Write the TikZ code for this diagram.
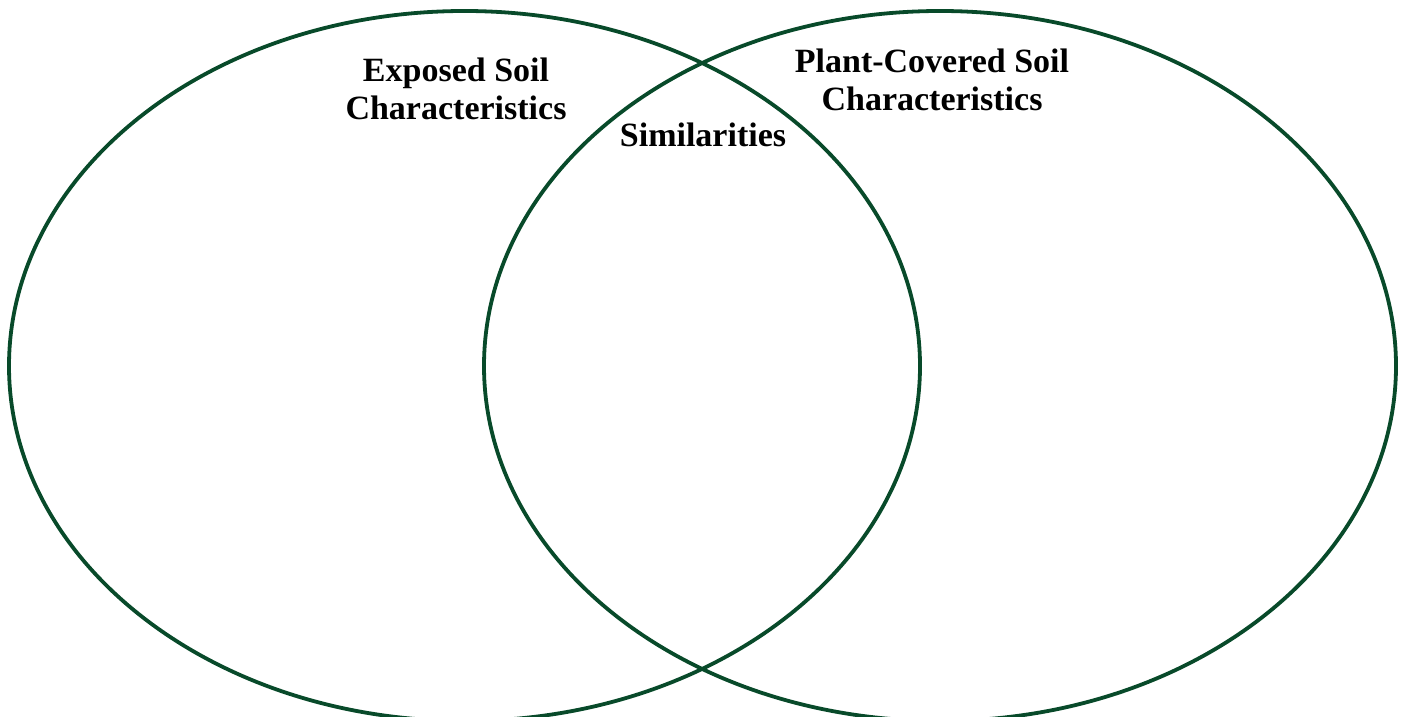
\documentclass[tikz,border=0pt]{standalone}
\usepackage{fontspec}
\setmainfont{Liberation Serif}
\definecolor{venngreen}{RGB}{8,74,42}
\begin{document}
\begin{tikzpicture}[x=1pt,y=1pt,
  circ/.style={draw=venngreen,line width=3.8pt},
  lbl/.style={font=\fontsize{34}{38}\selectfont\bfseries,align=center,inner sep=0pt}]
\useasboundingbox (0,0) rectangle (1408,717);
\clip (0,0) rectangle (1408,717);
\draw[circ] (464.5,351) ellipse [x radius=455.5, y radius=355];
\draw[circ] (940,351) ellipse [x radius=456, y radius=355];
\node[lbl] (exposed) at (456,628) {Exposed Soil\\Characteristics};
\node[lbl] (sim) at (703,582) {Similarities};
\node[lbl] (plant) at (932,637) {Plant-Covered Soil\\Characteristics};
\end{tikzpicture}
\end{document}
